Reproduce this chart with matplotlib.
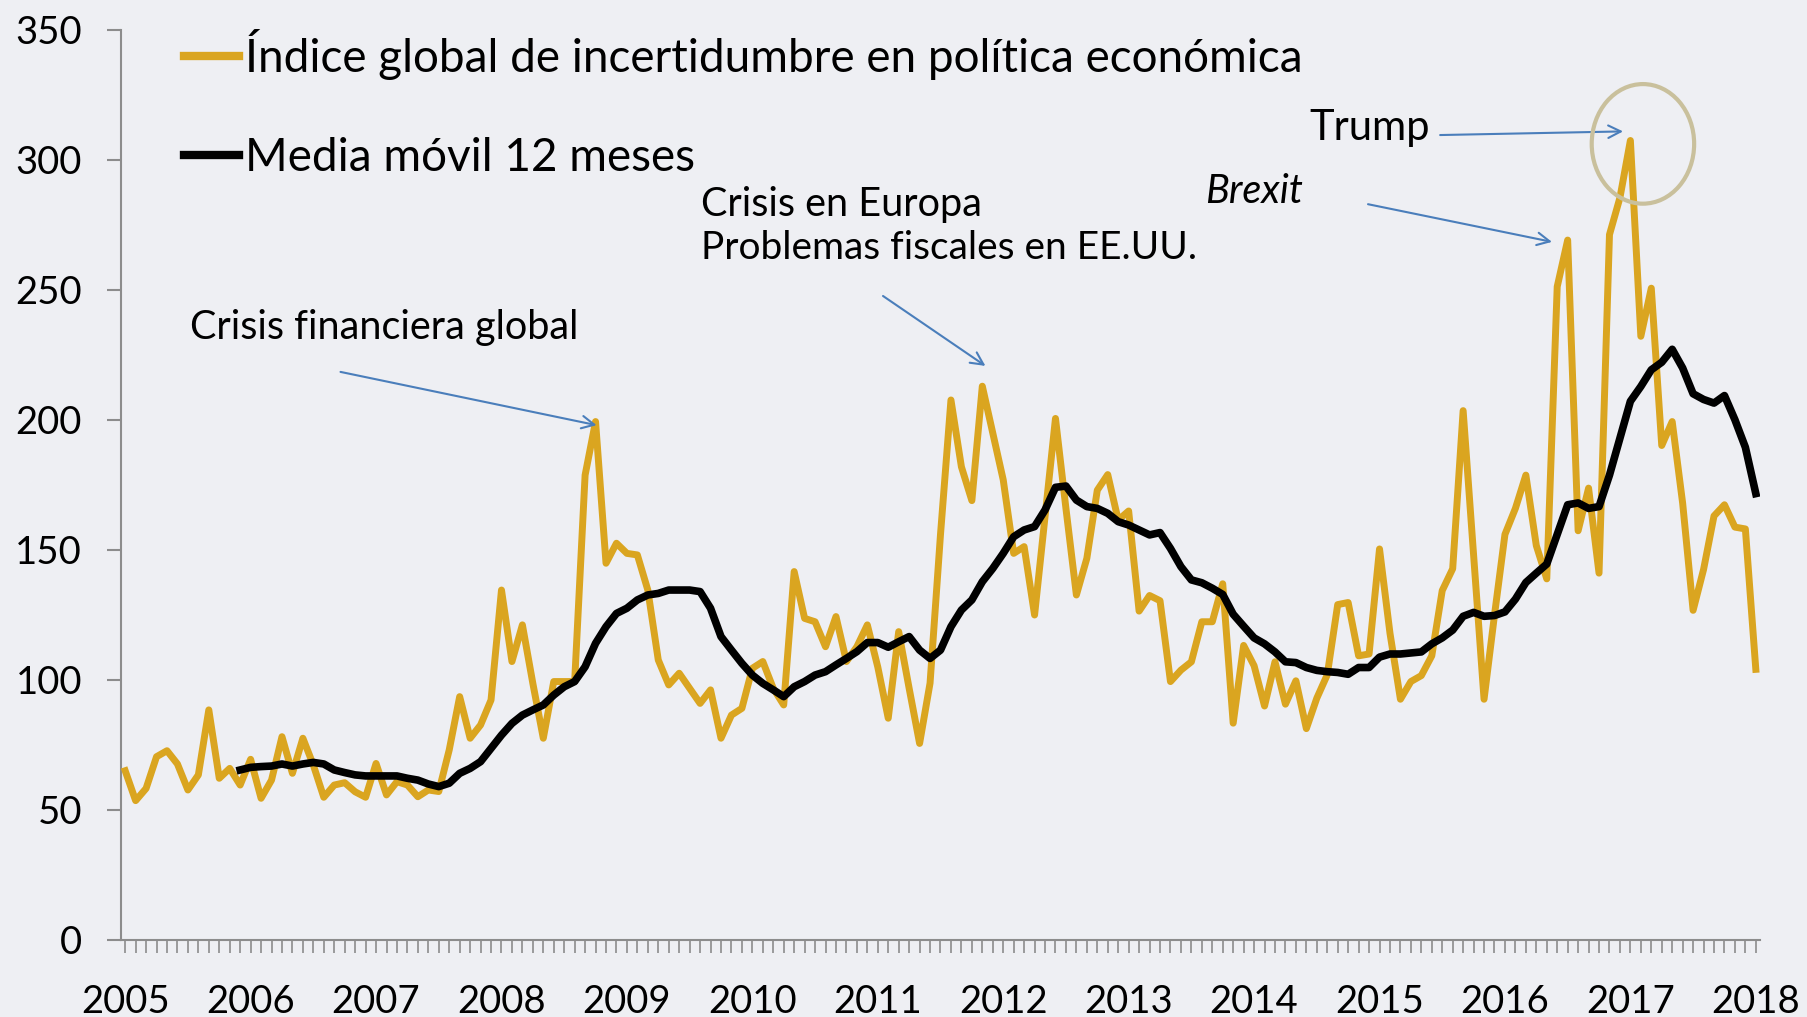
import matplotlib
matplotlib.use("Agg")
import matplotlib.pyplot as plt
from matplotlib.patches import Ellipse
import numpy as np

plt.rcParams['font.family'] = ['Lato', 'DejaVu Sans']

# Monthly index, Jan 2005 .. Jan 2018 (157 months)
epu = [65.1, 53.6, 58.3, 70.5, 72.8, 67.7, 57.7, 63.5, 88.5, 62.2, 66.0, 59.6,
       69.5, 54.5, 61.5, 78.2, 64.1, 77.6, 67.3, 54.9, 59.6, 60.5, 57.0, 54.9,
       67.9, 55.8, 60.9, 59.6, 55.1, 57.7, 57.1, 73.1, 93.6, 77.6, 82.7, 92.3,
       134.6, 107.1, 121.2, 98.7, 77.6, 99.4, 99.4, 99.4, 178.8, 199.4, 144.9, 152.6,
       148.7, 148.1, 134.6, 107.7, 98.1, 102.6, 96.8, 91.0, 96.2, 77.6, 86.5, 89.1,
       104.5, 107.1, 96.8, 90.4, 141.7, 123.7, 122.4, 112.8, 124.4, 107.1, 112.8, 121.2,
       105.0, 85.3, 118.6, 96.8, 75.6, 98.8, 156.0, 207.7, 182.0, 169.0, 213.0, 195.0,
       177.0, 148.7, 151.3, 125.0, 163.0, 200.6, 166.0, 132.7, 146.8, 173.0, 179.0, 161.5,
       165.0, 126.5, 132.5, 130.5, 99.4, 103.8, 107.0, 122.4, 122.4, 137.0, 83.4, 113.3,
       105.5, 90.0, 107.0, 90.7, 99.7, 81.3, 93.0, 102.0, 129.0, 129.8, 109.3, 110.0,
       150.4, 118.0, 92.6, 99.4, 101.7, 109.3, 134.4, 142.8, 203.6, 148.0, 92.6, 125.0,
       156.0, 166.0, 178.8, 151.7, 138.9, 251.3, 269.2, 157.4, 173.8, 141.1, 271.3, 285.5,
       307.5, 232.2, 250.7, 190.2, 199.4, 168.0, 126.8, 142.5, 163.1, 167.4, 158.8, 158.1,
       104.1]

# 12-month moving average, from Dec 2005 (month index 11) to Jan 2018
ma_start = 11
ma12 = [65.4, 66.4, 66.7, 66.9, 67.7, 66.9, 67.7, 68.3, 67.7, 65.4, 64.4, 63.5,
        63.1, 63.1, 63.1, 63.1, 62.2, 61.5, 60.0, 59.0, 60.3, 64.1, 66.0, 68.6,
        73.7, 78.8, 83.3, 86.5, 88.5, 90.4, 94.2, 97.4, 99.4, 105.1, 114.1, 120.5,
        125.6, 127.6, 130.8, 132.7, 133.3, 134.6, 134.6, 134.6, 134.0, 127.6, 116.7, 111.5,
        106.4, 101.9, 98.7, 96.2, 93.6, 97.4, 99.4, 101.9, 103.2, 105.8, 108.3, 110.9,
        114.4, 114.4, 112.6, 114.7, 116.7, 111.5, 108.3, 111.5, 120.5, 126.9, 130.8, 137.8,
        142.9, 148.7, 155.1, 157.7, 159.0, 165.4, 174.1, 174.6, 169.2, 166.7, 166.0, 164.1,
        160.9, 159.6, 157.7, 155.8, 156.7, 150.6, 143.6, 138.5, 137.4, 135.3, 132.9, 125.3,
        120.7, 116.2, 113.9, 110.8, 107.0, 106.7, 104.8, 103.7, 103.2, 102.9, 102.2, 104.8,
        104.8, 108.8, 110.0, 110.0, 110.4, 110.8, 113.9, 116.2, 119.2, 124.5, 126.0, 124.5,
        124.8, 126.2, 131.1, 137.5, 141.1, 144.6, 156.0, 167.4, 168.1, 166.0, 166.7, 178.8,
        193.0, 207.2, 212.9, 219.3, 222.2, 227.2, 220.0, 210.1, 207.9, 206.5, 209.4, 200.1,
        189.5, 171.7]

years = [str(y) for y in range(2005, 2019)]
yticks = [0, 50, 100, 150, 200, 250, 300, 350]

label_epu = "Índice global de incertidumbre en política económica"
label_ma = "Media móvil 12 meses"

bg = '#eeeff3'
gold = '#daa520'
blue = '#4a7ebb'
grey = '#8c8c8c'

fig = plt.figure(figsize=(18.07, 10.17), dpi=100, facecolor=bg)
ax = fig.add_axes([121/1807, 77/1017, (1760-121)/1807, 910/1017])
ax.set_facecolor(bg)

x = np.arange(len(epu))
xm = np.arange(ma_start, ma_start + len(ma12))
ax.plot(x, epu, color=gold, lw=5.0, solid_joinstyle='round', label=label_epu, zorder=3)
ax.plot(xm, ma12, color='black', lw=5.5, solid_joinstyle='round', label=label_ma, zorder=4)

ax.set_xlim(-0.4, 156.4)
ax.set_ylim(0, 350)

for s in ['top', 'right']:
    ax.spines[s].set_visible(False)
for s in ['left', 'bottom']:
    ax.spines[s].set_color(grey)
    ax.spines[s].set_linewidth(1.5)

ax.set_yticks(yticks)
ax.set_yticklabels([str(v) for v in yticks])
ax.tick_params(axis='y', direction='out', length=10, width=1.5, color=grey,
               labelsize=27.5, pad=18)
ax.set_xticks(np.arange(0, 157, 12))
ax.set_xticklabels(years)
ax.set_xticks(np.arange(0, 157, 1), minor=True)
ax.tick_params(axis='x', which='both', direction='out', length=9, width=1.2, color=grey,
               labelsize=27.5, pad=23)

leg = ax.legend(loc='upper left', bbox_to_anchor=(184/1807, 1 - 29/1017),
                bbox_transform=fig.transFigure, frameon=False, fontsize=33,
                handlelength=1.2, handletextpad=0.13, labelspacing=1.25,
                borderpad=0, borderaxespad=0)
for h in leg.get_lines():
    h.set_linewidth(6)

akw = dict(arrowstyle='->,head_length=0.9,head_width=0.45', color=blue, lw=1.5,
           shrinkA=0, shrinkB=0)

fs = 28.5
ax.text(6.2, 235.4, "Crisis financiera global", fontsize=fs, ha='left', va='center')
ax.annotate("", xy=(45.1, 198), xytext=(20.6, 218.5), arrowprops=akw)

ax.text(55.1, 282.7, "Crisis en Europa", fontsize=fs, ha='left', va='center')
ax.text(55.1, 266.2, "Problemas fiscales en EE.UU.", fontsize=28, ha='left', va='center')
ax.annotate("", xy=(82.3, 220.8), xytext=(72.5, 247.7), arrowprops=akw)

ax.text(113.3, 312.3, "Trump", fontsize=30, ha='left', va='center')
ax.annotate("", xy=(143.3, 311), xytext=(125.8, 309.6), arrowprops=akw)

ax.text(103.3, 287.7, "Brexit", fontsize=fs, ha='left', va='center', style='italic')
ax.annotate("", xy=(136.5, 268.5), xytext=(118.9, 283), arrowprops=akw)

ax.add_patch(Ellipse((145.2, 306.2), width=9.8, height=46, fill=False,
                     edgecolor='#c9c09c', lw=3, zorder=5))

fig.savefig('out.png', dpi=100, facecolor=bg)
